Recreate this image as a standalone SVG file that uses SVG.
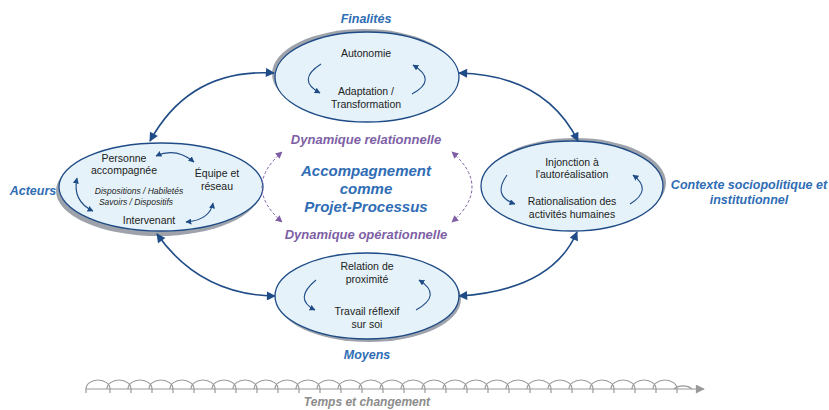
<svg xmlns="http://www.w3.org/2000/svg" width="829" height="410" viewBox="0 0 829 410">
  <defs>
    <marker id="bigArrow" viewBox="0 0 10 10" refX="9" refY="5" markerWidth="11" markerHeight="9" markerUnits="userSpaceOnUse" orient="auto-start-reverse">
      <path d="M0,0 L10,5 L0,10 Z" fill="#1F4C87"/>
    </marker>
    <marker id="smallArrow" viewBox="0 0 10 10" refX="9" refY="5" markerWidth="6" markerHeight="6" markerUnits="userSpaceOnUse" orient="auto-start-reverse">
      <path d="M0,0 L10,5 L0,10 Z" fill="#1F4C87"/>
    </marker>
    <marker id="purpleArrow" viewBox="0 0 10 10" refX="9" refY="5" markerWidth="7" markerHeight="7" markerUnits="userSpaceOnUse" orient="auto-start-reverse">
      <path d="M0,0 L10,5 L0,10 Z" fill="#7E5FA6"/>
    </marker>
    <marker id="greyArrow" viewBox="0 0 10 10" refX="9" refY="5" markerWidth="12" markerHeight="9" markerUnits="userSpaceOnUse" orient="auto">
      <path d="M0,0 L10,5 L0,10 Z" fill="#9A9A9A"/>
    </marker>
  </defs>
  <style>
    .shadow { fill: #9EA3AB; }
    .ell { fill: #E5F2F9; stroke: #1F4C87; stroke-width: 1.3; }
    .txt { font-family: "Liberation Sans", Arial, sans-serif; font-size: 10.5px; fill: #222222; text-anchor: middle; }
    .small { font-family: "Liberation Sans", Arial, sans-serif; font-size: 8.5px; font-style: italic; fill: #222222; text-anchor: middle; }
    .head { font-family: "Liberation Sans", Arial, sans-serif; font-size: 12.5px; font-weight: bold; font-style: italic; fill: #2F6DB5; text-anchor: middle; }
    .title { font-family: "Liberation Sans", Arial, sans-serif; font-size: 15px; font-weight: bold; font-style: italic; fill: #2F6DB5; text-anchor: middle; }
    .dyn { font-family: "Liberation Sans", Arial, sans-serif; font-size: 13px; font-weight: bold; font-style: italic; fill: #7E5FA6; text-anchor: middle; }
    .time { font-family: "Liberation Sans", Arial, sans-serif; font-size: 12px; font-weight: bold; font-style: italic; fill: #8C8C8C; text-anchor: middle; }
    .conn { fill: none; stroke: #1F4C87; stroke-width: 1.6; }
    .inner { fill: none; stroke: #1F4C87; stroke-width: 1.1; }
    .dash { fill: none; stroke: #7E5FA6; stroke-width: 1; stroke-dasharray: 3 2; }
    .tl { fill: none; stroke: #9A9A9A; stroke-width: 1.2; }
  </style>

  <!-- Finalités -->
  <g id="node-finalites">
    <ellipse class="shadow" cx="364" cy="74" rx="92" ry="45"/>
    <ellipse class="ell" cx="367" cy="77" rx="92" ry="45"/>
    <text class="head" x="366" y="23">Finalités</text>
    <text class="txt" x="366" y="57">Autonomie</text>
    <text class="txt" x="366" y="95">Adaptation /</text>
    <text class="txt" x="366" y="108">Transformation</text>
    <path class="inner" d="M321,64 Q296,80 320,93" marker-end="url(#smallArrow)"/>
    <path class="inner" d="M412,94 Q438,80 413,65" marker-end="url(#smallArrow)"/>
  </g>

  <!-- Acteurs -->
  <g id="node-acteurs">
    <ellipse class="shadow" cx="158" cy="191" rx="102" ry="45"/>
    <ellipse class="ell" cx="161" cy="187" rx="102" ry="44"/>
    <text class="head" x="33" y="195">Acteurs</text>
    <text class="txt" x="124" y="162">Personne</text>
    <text class="txt" x="124" y="174">accompagnée</text>
    <text class="txt" x="217" y="177">Équipe et</text>
    <text class="txt" x="217" y="190">réseau</text>
    <text class="small" x="139" y="194">Dispositions / Habiletés</text>
    <text class="small" x="136" y="205">Savoirs / Dispositifs</text>
    <text class="txt" x="149" y="224">Intervenant</text>
    <path class="inner" d="M156,156 Q176,147 194,162" marker-start="url(#smallArrow)" marker-end="url(#smallArrow)"/>
    <path class="inner" d="M77,178 Q72,201 93,211" marker-start="url(#smallArrow)" marker-end="url(#smallArrow)"/>
    <path class="inner" d="M186,222 Q210,220 213,203" marker-start="url(#smallArrow)" marker-end="url(#smallArrow)"/>
  </g>

  <!-- Contexte sociopolitique et institutionnel -->
  <g id="node-contexte">
    <ellipse class="shadow" cx="575" cy="183" rx="91" ry="45"/>
    <ellipse class="ell" cx="572" cy="186" rx="91" ry="45"/>
    <text class="head" x="749" y="189">Contexte sociopolitique et</text>
    <text class="head" x="749" y="204">institutionnel</text>
    <text class="txt" x="572" y="166">Injonction à</text>
    <text class="txt" x="572" y="178">l'autoréalisation</text>
    <text class="txt" x="572" y="205">Rationalisation des</text>
    <text class="txt" x="572" y="218">activités humaines</text>
    <path class="inner" d="M507,175 Q492,196 515,204" marker-end="url(#smallArrow)"/>
    <path class="inner" d="M630,204 Q653,190 633,175" marker-end="url(#smallArrow)"/>
  </g>

  <!-- Moyens -->
  <g id="node-moyens">
    <ellipse class="shadow" cx="369" cy="299" rx="92" ry="43"/>
    <ellipse class="ell" cx="367" cy="296" rx="92" ry="43"/>
    <text class="head" x="367" y="359">Moyens</text>
    <text class="txt" x="367" y="270">Relation de</text>
    <text class="txt" x="367" y="283">proximité</text>
    <text class="txt" x="367" y="315">Travail réflexif</text>
    <text class="txt" x="367" y="328">sur soi</text>
    <path class="inner" d="M316,280 Q293,299 315,310" marker-end="url(#smallArrow)"/>
    <path class="inner" d="M416,310 Q443,295 419,280" marker-end="url(#smallArrow)"/>
  </g>

  <!-- Centre -->
  <g id="node-centre">
    <text class="dyn" x="366" y="144">Dynamique relationnelle</text>
    <text class="title" x="366" y="176">Accompagnement</text>
    <text class="title" x="366" y="194">comme</text>
    <text class="title" x="366" y="212">Projet-Processus</text>
    <text class="dyn" x="366" y="239">Dynamique opérationnelle</text>
  </g>

  <!-- Connectors -->
  <g id="connectors">
    <path class="conn" d="M150,141 Q190,68 274,73" marker-start="url(#bigArrow)" marker-end="url(#bigArrow)"/>
    <path class="conn" d="M459,73 Q545,75 578,141" marker-start="url(#bigArrow)" marker-end="url(#bigArrow)"/>
    <path class="conn" d="M157,234 Q200,295 275,296" marker-start="url(#bigArrow)" marker-end="url(#bigArrow)"/>
    <path class="conn" d="M459,296 Q552,290 577,232" marker-start="url(#bigArrow)" marker-end="url(#bigArrow)"/>
    <path class="dash" d="M282,152 Q242,187 282,222" marker-start="url(#purpleArrow)" marker-end="url(#purpleArrow)"/>
    <path class="dash" d="M452,152 Q492,187 452,222" marker-start="url(#purpleArrow)" marker-end="url(#purpleArrow)"/>
  </g>

  <!-- Timeline -->
  <g id="timeline">
    <path class="tl" d="M86,389 H704" marker-end="url(#greyArrow)"/>
    <path class="tl" d="M86,389 a12,9 0 0 1 24,0 M107,389 a12,9 0 0 1 24,0 M128,389 a12,9 0 0 1 24,0 M149,389 a12,9 0 0 1 24,0 M170,389 a12,9 0 0 1 24,0 M191,389 a12,9 0 0 1 24,0 M212,389 a12,9 0 0 1 24,0 M233,389 a12,9 0 0 1 24,0 M254,389 a12,9 0 0 1 24,0 M275,389 a12,9 0 0 1 24,0 M296,389 a12,9 0 0 1 24,0 M317,389 a12,9 0 0 1 24,0 M338,389 a12,9 0 0 1 24,0 M359,389 a12,9 0 0 1 24,0 M380,389 a12,9 0 0 1 24,0 M401,389 a12,9 0 0 1 24,0 M422,389 a12,9 0 0 1 24,0 M443,389 a12,9 0 0 1 24,0 M464,389 a12,9 0 0 1 24,0 M485,389 a12,9 0 0 1 24,0 M506,389 a12,9 0 0 1 24,0 M527,389 a12,9 0 0 1 24,0 M548,389 a12,9 0 0 1 24,0 M569,389 a12,9 0 0 1 24,0 M590,389 a12,9 0 0 1 24,0 M611,389 a12,9 0 0 1 24,0 M632,389 a12,9 0 0 1 24,0 M653,389 a12,9 0 0 1 24,0 M674,389 a12,9 0 0 1 18,0"/>
    <path class="tl" d="M86,389 v4 M110,389 v4 M131,389 v4 M152,389 v4 M173,389 v4 M194,389 v4 M215,389 v4 M236,389 v4 M257,389 v4 M278,389 v4 M299,389 v4 M320,389 v4 M341,389 v4 M362,389 v4 M383,389 v4 M404,389 v4 M425,389 v4 M446,389 v4 M467,389 v4 M488,389 v4 M509,389 v4 M530,389 v4 M551,389 v4 M572,389 v4 M593,389 v4 M614,389 v4 M635,389 v4 M656,389 v4 M677,389 v4"/>
    <text class="time" x="367" y="406">Temps et changement</text>
  </g>
</svg>
